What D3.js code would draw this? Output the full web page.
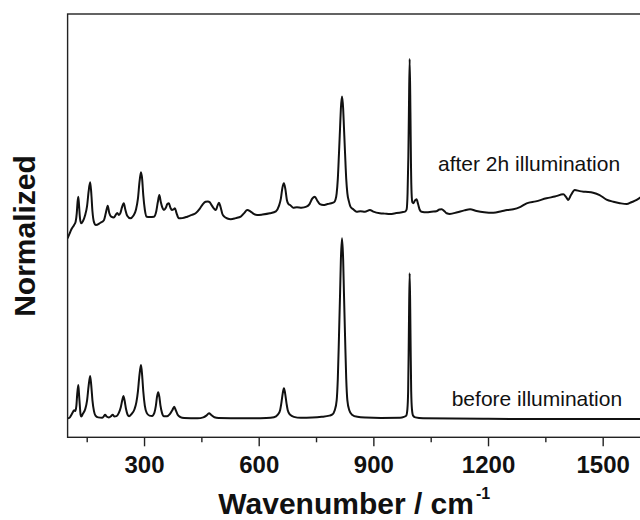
<!DOCTYPE html>
<html>
<head>
<meta charset="utf-8">
<script src="https://cdn.jsdelivr.net/npm/d3@7"></script>
<style>
  html, body { margin: 0; padding: 0; background: #fff; }
  svg { display: block; }
  text { font-family: "Liberation Sans", Arial, Helvetica, sans-serif; fill: #111; }
</style>
</head>
<body>
<svg id="chart" width="640" height="520"></svg>
<script>
// ---- data ----
const xDomain = [100, 1600];
const majorTicks = [300, 600, 900, 1200, 1500];
const minorTicks = [150, 450, 750, 1050, 1350];
const xTitle = "Wavenumber / cm";
const xTitleSup = "-1";
const yTitle = "Normalized";
const afterLabel = "after 2h illumination";
const beforeLabel = "before illumination";

// [wavenumber, normalized intensity]
const beforeSpectrum = [
[100,0.0],[105,0.003],[110,0.02],[114,0.035],[117,0.045],[120,0.04],[123,0.07],[125,0.13],[128,0.185],[130,0.13],[132,0.07],[134,0.02],[136,0.01],[140,0.025],[146,0.05],[151,0.1],[155,0.18],[159,0.235],[162,0.18],[165,0.1],[169,0.04],[173,0.015],[180,0.005],[190,0.003],[195,0.012],[198,0.02],[202,0.01],[208,0.005],[214,0.012],[218,0.02],[222,0.01],[228,0.012],[234,0.03],[239,0.06],[243,0.1],[246,0.124],[249,0.1],[253,0.05],[257,0.02],[261,0.012],[268,0.025],[275,0.05],[280,0.09],[284,0.15],[288,0.24],[292,0.296],[295,0.24],[298,0.15],[302,0.07],[307,0.03],[314,0.015],[321,0.013],[327,0.03],[331,0.07],[334,0.12],[337,0.144],[340,0.12],[343,0.07],[347,0.03],[352,0.012],[360,0.012],[368,0.025],[374,0.045],[379,0.064],[383,0.045],[388,0.02],[395,0.007],[405,0.002],[440,0.0],[455,0.005],[463,0.015],[470,0.028],[476,0.018],[484,0.006],[495,0.002],[560,0.0],[620,0.002],[640,0.006],[650,0.02],[656,0.045],[659,0.08],[663,0.14],[666,0.167],[669,0.14],[673,0.08],[676,0.045],[682,0.02],[692,0.008],[710,0.003],[740,0.004],[765,0.008],[785,0.015],[792,0.02],[799,0.045],[804,0.1],[807,0.22],[810,0.45],[813,0.7],[815,0.88],[818,1.0],[821,0.88],[823,0.7],[826,0.45],[829,0.22],[832,0.1],[837,0.045],[844,0.02],[858,0.008],[880,0.004],[920,0.002],[970,0.003],[980,0.008],[986,0.015],[989,0.05],[991,0.15],[992.5,0.4],[993.5,0.6],[995,0.806],[996.5,0.6],[997.5,0.4],[999,0.15],[1001,0.05],[1004,0.015],[1010,0.005],[1030,0.0],[1200,-0.003],[1400,-0.004],[1600,-0.004]
];

const afterSpectrum = [
[100,1.0],[104,1.02],[110,1.05],[117,1.074],[121,1.092],[124,1.14],[126,1.2],[128,1.231],[130,1.18],[132,1.12],[135,1.083],[140,1.095],[146,1.13],[151,1.18],[155,1.26],[159,1.311],[162,1.25],[165,1.15],[169,1.09],[174,1.074],[185,1.085],[195,1.1],[200,1.14],[205,1.181],[209,1.14],[214,1.12],[221,1.115],[226,1.13],[230,1.141],[234,1.13],[238,1.14],[242,1.17],[247,1.194],[251,1.16],[256,1.125],[264,1.111],[272,1.125],[279,1.16],[284,1.22],[288,1.31],[292,1.367],[295,1.33],[298,1.24],[302,1.16],[307,1.12],[315,1.118],[326,1.12],[332,1.15],[336,1.2],[340,1.241],[344,1.2],[348,1.17],[352,1.157],[357,1.17],[361,1.19],[365,1.194],[369,1.17],[373,1.157],[377,1.16],[381,1.167],[385,1.14],[391,1.111],[400,1.112],[413,1.12],[425,1.13],[435,1.139],[446,1.165],[454,1.19],[461,1.203],[467,1.205],[472,1.2],[478,1.18],[483,1.165],[488,1.157],[492,1.18],[496,1.198],[500,1.175],[505,1.135],[510,1.12],[518,1.11],[527,1.106],[540,1.112],[553,1.12],[562,1.14],[570,1.157],[578,1.15],[587,1.135],[596,1.129],[610,1.132],[629,1.139],[645,1.15],[653,1.18],[658,1.22],[662,1.28],[666,1.306],[670,1.27],[674,1.21],[678,1.19],[682,1.185],[690,1.17],[700,1.172],[712,1.17],[725,1.176],[733,1.19],[740,1.22],[747,1.231],[753,1.21],[760,1.19],[769,1.185],[780,1.19],[790,1.195],[797,1.2],[801,1.215],[804,1.25],[807,1.33],[810,1.47],[813,1.62],[815,1.72],[818,1.787],[821,1.72],[823,1.62],[826,1.47],[829,1.33],[832,1.25],[836,1.205],[840,1.176],[848,1.16],[856,1.148],[866,1.15],[878,1.148],[891,1.157],[900,1.148],[917,1.139],[930,1.137],[943,1.135],[960,1.14],[975,1.145],[983,1.148],[987,1.16],[989.5,1.25],[991.5,1.45],[993,1.7],[995,1.996],[997,1.7],[998.5,1.4],[1000,1.25],[1002,1.2],[1005,1.195],[1009,1.21],[1013,1.217],[1017,1.19],[1021,1.16],[1026,1.148],[1040,1.145],[1052,1.148],[1065,1.15],[1073,1.16],[1079,1.161],[1086,1.15],[1092,1.139],[1100,1.135],[1120,1.145],[1138,1.155],[1153,1.161],[1170,1.152],[1190,1.145],[1214,1.142],[1235,1.15],[1250,1.157],[1266,1.161],[1285,1.175],[1301,1.194],[1325,1.205],[1353,1.222],[1375,1.232],[1397,1.244],[1404,1.23],[1410,1.213],[1417,1.24],[1427,1.268],[1440,1.262],[1455,1.258],[1475,1.253],[1492,1.24],[1510,1.215],[1528,1.203],[1545,1.195],[1563,1.19],[1575,1.2],[1589,1.213],[1600,1.229]
];

// ---- layout ----
const plot = { left: 67.6, right: 640.9, top: 14, bottom: 437.3 };
const svg = d3.select("#chart");

const x = d3.scaleLinear().domain(xDomain).range([plot.left, plot.right]);
const y = d3.scaleLinear().domain([-0.1056, 2.246]).range([plot.bottom, plot.top]);

svg.append("defs").append("clipPath").attr("id", "clip")
  .append("rect")
  .attr("x", plot.left).attr("y", plot.top)
  .attr("width", plot.right - plot.left).attr("height", plot.bottom - plot.top);

const line = d3.line()
  .x(d => x(d[0]))
  .y(d => y(d[1]))
  .curve(d3.curveMonotoneX);

const traces = svg.append("g").attr("clip-path", "url(#clip)");
[beforeSpectrum, afterSpectrum].forEach(s => {
  traces.append("path")
    .datum(s)
    .attr("d", line)
    .attr("fill", "none")
    .attr("stroke", "#111")
    .attr("stroke-width", 2)
    .attr("stroke-linejoin", "round");
});

// frame
svg.append("rect")
  .attr("x", plot.left).attr("y", plot.top)
  .attr("width", plot.right - plot.left).attr("height", plot.bottom - plot.top)
  .attr("fill", "none").attr("stroke", "#222").attr("stroke-width", 1.4);

// minor ticks
const minorAxis = d3.axisBottom(x).tickValues(minorTicks).tickSize(5).tickFormat("");
svg.append("g")
  .attr("transform", `translate(0,${plot.bottom})`)
  .call(minorAxis)
  .call(g => g.select(".domain").remove())
  .call(g => g.selectAll("line").attr("stroke", "#222").attr("stroke-width", 1.4));

// major ticks + labels
const majorAxis = d3.axisBottom(x).tickValues(majorTicks).tickSize(9).tickFormat(d3.format("d"));
svg.append("g")
  .attr("transform", `translate(0,${plot.bottom})`)
  .call(majorAxis)
  .call(g => g.select(".domain").remove())
  .call(g => g.selectAll("line").attr("stroke", "#222").attr("stroke-width", 1.4))
  .call(g => g.selectAll("text")
    .attr("y", 35.7).attr("dy", null)
    .attr("fill", "#111")
    .style("font-family", '"Liberation Sans", Arial, sans-serif')
    .style("font-size", "24px")
    .style("font-weight", "bold"));

// x title
const xt = svg.append("text")
  .attr("x", (plot.left + plot.right) / 2)
  .attr("y", 514)
  .attr("text-anchor", "middle")
  .style("font-size", "30px")
  .style("font-weight", "bold");
xt.append("tspan").text(xTitle);
xt.append("tspan").attr("dy", -15).attr("dx", 2).style("font-size", "16px").text(xTitleSup);

// y title
svg.append("text")
  .attr("transform", "translate(35,236) rotate(-90)")
  .attr("text-anchor", "middle")
  .style("font-size", "30px")
  .style("font-weight", "bold")
  .text(yTitle);

// trace labels
svg.append("text").attr("x", 438).attr("y", 170.7)
  .style("font-size", "21px").text(afterLabel);
svg.append("text").attr("x", 451.7).attr("y", 405.7)
  .style("font-size", "21px").text(beforeLabel);
</script>
</body>
</html>
